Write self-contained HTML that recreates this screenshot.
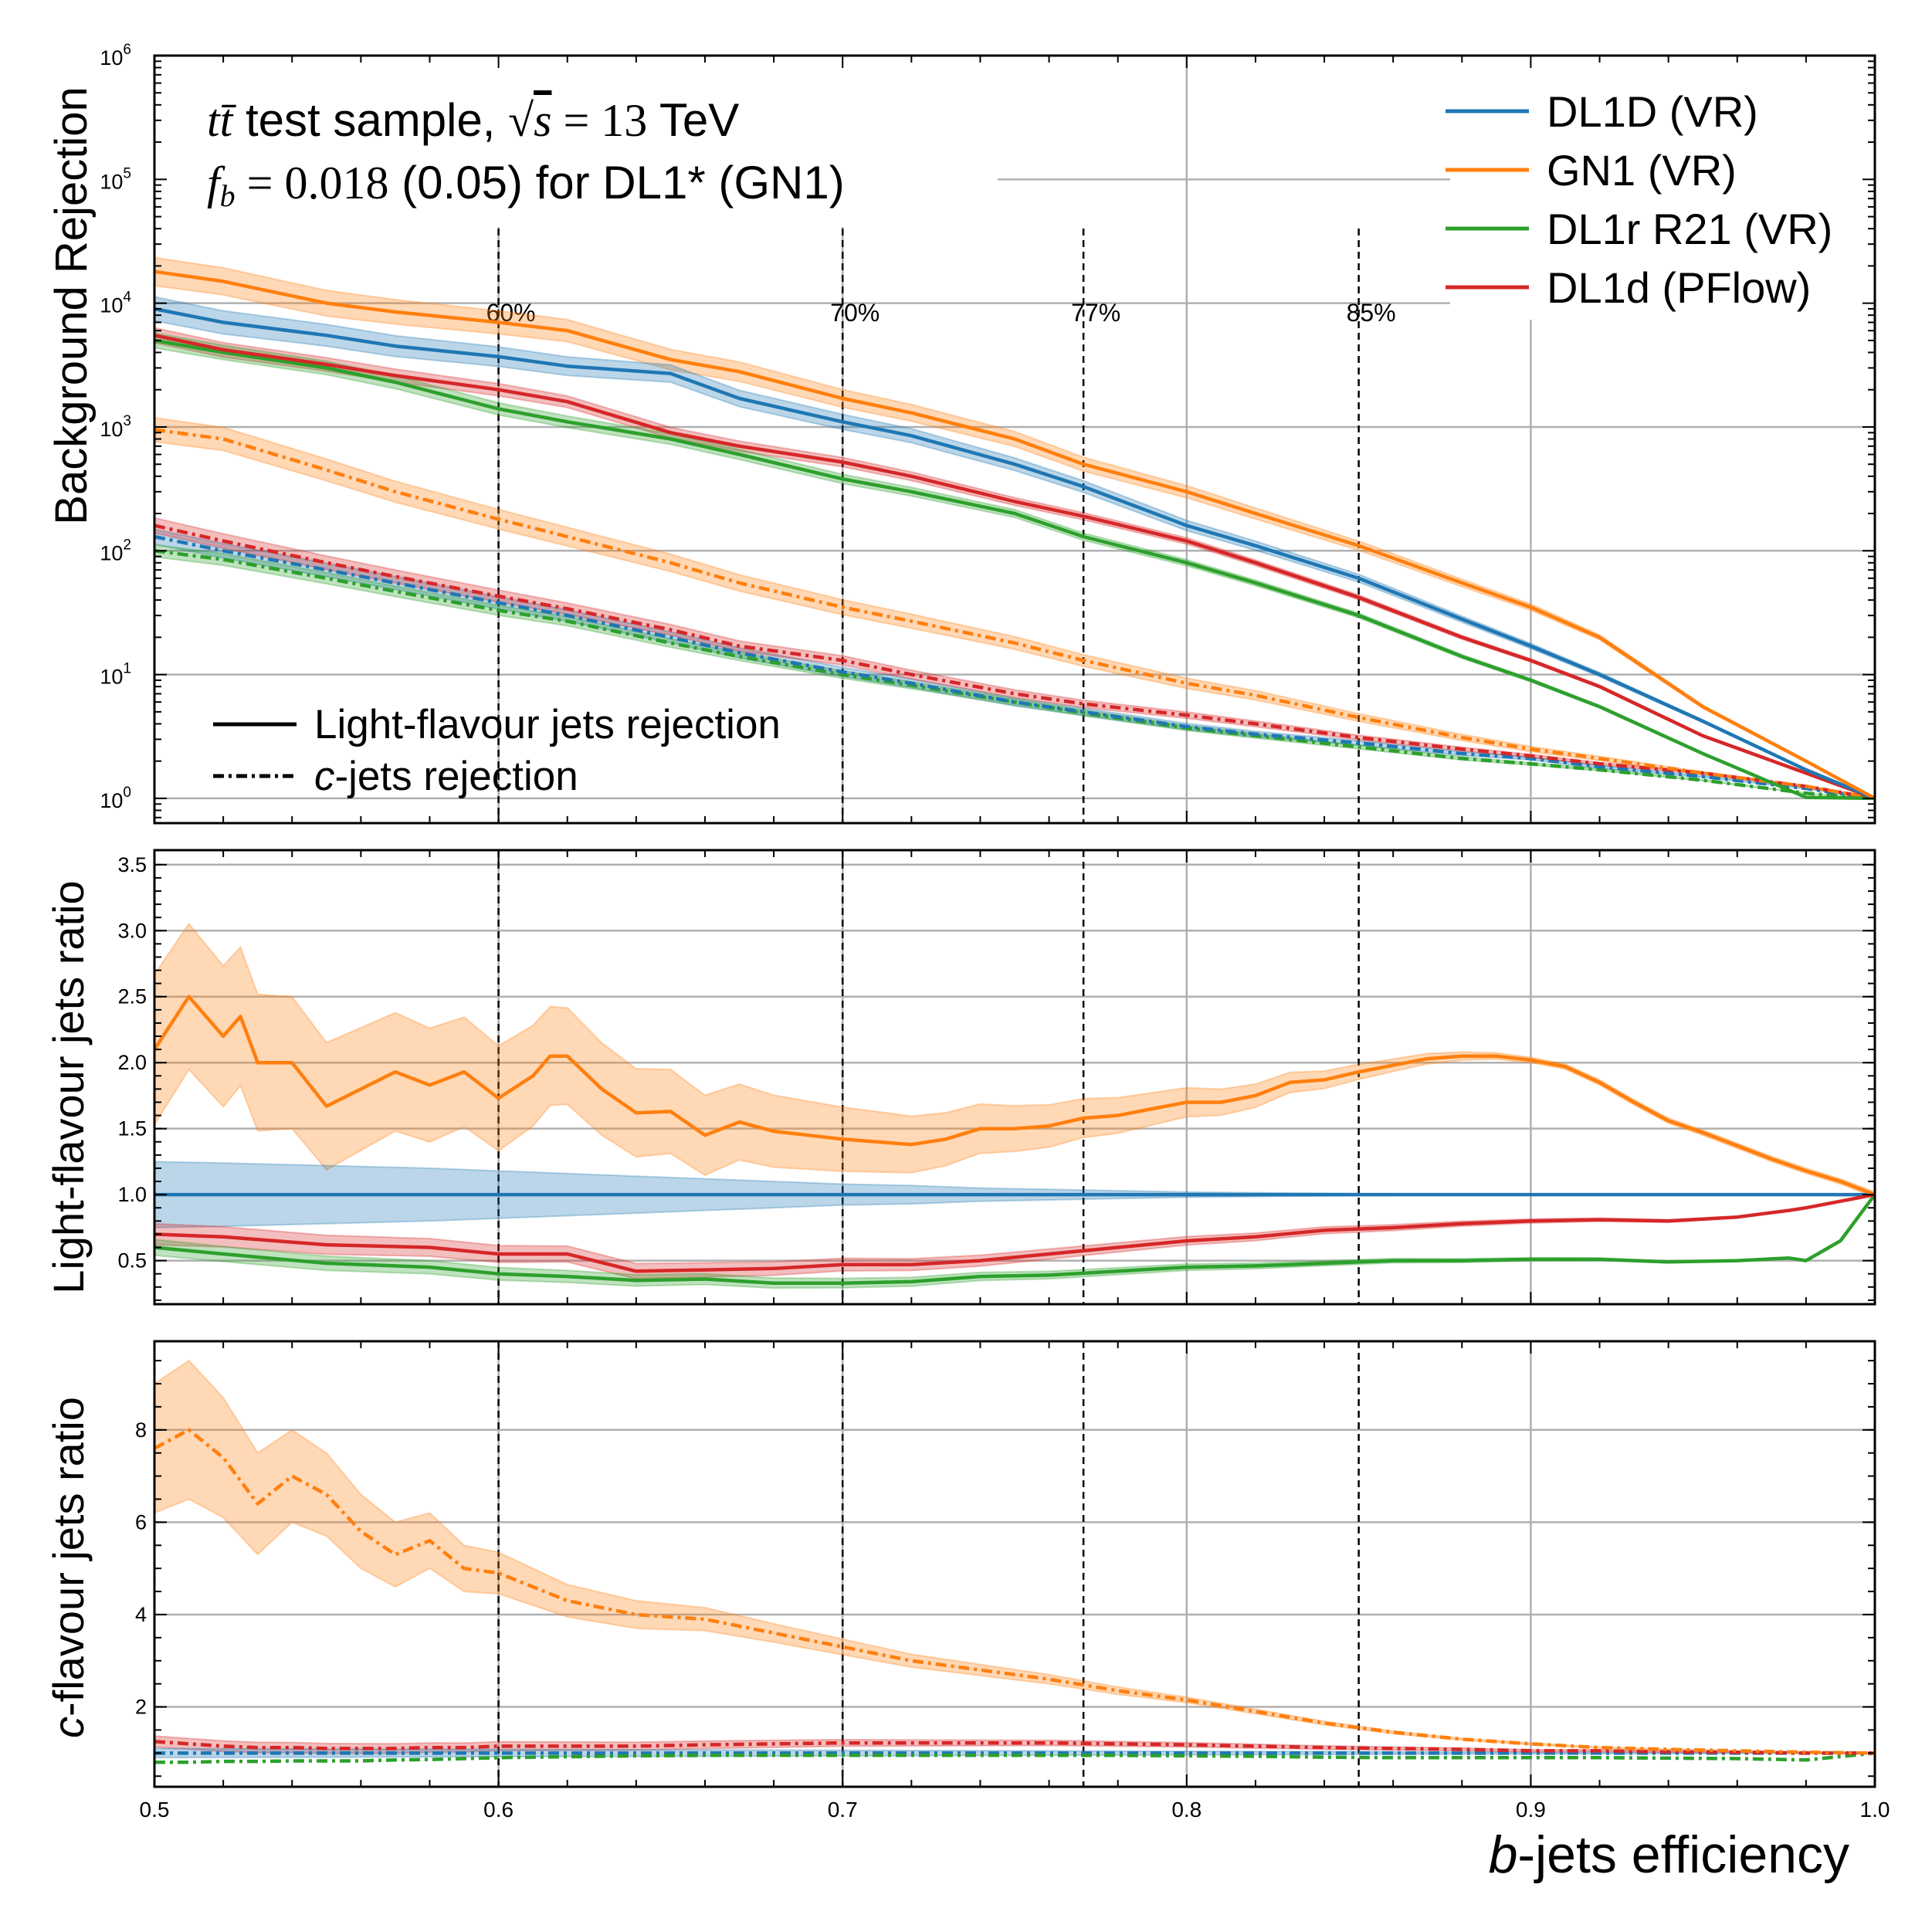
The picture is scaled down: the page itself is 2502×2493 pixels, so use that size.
<!DOCTYPE html>
<html><head><meta charset="utf-8"><style>
body{margin:0;background:#fff}
svg{display:block;font-family:"Liberation Sans",sans-serif}
</style></head><body>
<svg id="chart" width="2502" height="2493" viewBox="0 0 2502 2493" xmlns="http://www.w3.org/2000/svg"></svg>
<script>
// ---- data ----
const effTop = [0.5,0.52,0.55,0.57,0.6,0.62,0.65,0.67,0.7,0.72,0.75,0.77,0.8,0.82,0.85,0.88,0.9,0.92,0.95,0.98,1.0];
const gn1Light  = [18000,15000,10000,8500,7000,6000,3500,2800,1700,1300,800,500,300,200,110,55,35,20,5.5,2.0,1];
const dl1DLight = [9000,7000,5500,4500,3700,3100,2700,1700,1100,850,500,330,160,110,60,28,17,10,4.2,1.7,1];
const dl1rLight = [5000,4000,3000,2300,1400,1100,800,600,380,300,200,130,80,55,30,14,9,5.5,2.3,1.02,1];
const dl1dLight = [5500,4200,3200,2600,2000,1600,900,700,520,400,250,190,120,80,42,20,13,8,3.2,1.6,1];
const gn1C  = [950,800,450,300,180,130,80,55,35,27,18,13,8.5,6.8,4.5,3.1,2.5,2.1,1.6,1.25,1];
const dl1DC = [130,100,70,55,38,30,20,15,10.5,8.5,6,5,3.8,3.3,2.8,2.3,2.1,1.8,1.5,1.2,1];
const dl1dC = [160,120,80,62,43,34,23,17,13,10,7,5.8,4.7,4,3.1,2.5,2.2,1.9,1.6,1.25,1];
const dl1rC = [100,85,60,47,33,27,18,14,10,8.2,6,4.9,3.7,3.2,2.6,2.1,1.9,1.7,1.4,1.1,1];

const effGN1r = [0.5,0.51,0.52,0.525,0.53,0.54,0.55,0.56,0.57,0.58,0.59,0.6,0.61,0.615,0.62,0.63,0.64,0.65,0.66,0.67,0.68,0.69,0.7,0.71,0.72,0.73,0.74,0.75,0.76,0.77,0.78,0.79,0.8,0.81,0.82,0.83,0.84,0.85,0.86,0.87,0.88,0.89,0.9,0.91,0.92,0.93,0.94,0.95,0.96,0.97,0.98,0.99,1.0];
const gn1LightRatio = [2.1,2.5,2.2,2.35,2.0,2.0,1.67,1.8,1.93,1.83,1.93,1.73,1.9,2.05,2.05,1.8,1.62,1.63,1.45,1.55,1.48,1.45,1.42,1.4,1.38,1.42,1.5,1.5,1.52,1.58,1.6,1.65,1.7,1.7,1.75,1.85,1.87,1.93,1.98,2.03,2.05,2.05,2.02,1.97,1.85,1.7,1.56,1.47,1.37,1.27,1.18,1.1,1.0];
const effR = [0.5,0.52,0.55,0.58,0.6,0.62,0.64,0.66,0.68,0.7,0.72,0.74,0.76,0.78,0.8,0.82,0.84,0.86,0.88,0.9,0.92,0.94,0.96,0.975,0.98,0.99,1.0];
const dl1dLightRatio = [0.7,0.68,0.62,0.6,0.55,0.55,0.42,0.43,0.44,0.47,0.47,0.5,0.55,0.6,0.65,0.68,0.73,0.75,0.78,0.8,0.81,0.8,0.83,0.88,0.9,0.95,1.0];
const dl1rLightRatio = [0.6,0.55,0.48,0.45,0.4,0.38,0.35,0.36,0.33,0.33,0.34,0.38,0.39,0.42,0.45,0.46,0.48,0.5,0.5,0.51,0.51,0.49,0.5,0.52,0.5,0.65,1.0];
const dl1DBand = [0.25,0.24,0.22,0.2,0.18,0.16,0.14,0.12,0.1,0.08,0.07,0.05,0.04,0.03,0.02,0.015,0.01,0.005,0,0,0,0,0,0,0,0,0];

const effC = [0.5,0.51,0.52,0.53,0.54,0.55,0.56,0.57,0.58,0.59,0.6,0.62,0.64,0.66,0.68,0.7,0.72,0.74,0.76,0.78,0.8,0.82,0.84,0.86,0.88,0.9,0.92,0.94,0.96,0.98,1.0];
const gn1CRatio = [7.6,8.0,7.4,6.4,7.0,6.6,5.8,5.3,5.6,5.0,4.9,4.3,4.0,3.9,3.6,3.3,3.0,2.8,2.6,2.35,2.15,1.9,1.65,1.45,1.3,1.2,1.12,1.08,1.05,1.02,1.0];
const gn1CBand  = [1.4,1.5,1.3,1.1,1.0,0.9,0.8,0.7,0.6,0.5,0.45,0.35,0.3,0.25,0.2,0.17,0.14,0.12,0.1,0.08,0.06,0.05,0.04,0.03,0.02,0.02,0.01,0.01,0,0,0];
const dl1dCRatio = [1.25,1.2,1.15,1.12,1.12,1.1,1.1,1.1,1.12,1.12,1.15,1.15,1.15,1.18,1.2,1.22,1.22,1.22,1.22,1.2,1.18,1.15,1.12,1.1,1.08,1.05,1.05,1.03,1.02,1.0,1.0];
const dl1rCRatio = [0.8,0.8,0.82,0.82,0.83,0.83,0.83,0.85,0.86,0.88,0.9,0.92,0.94,0.95,0.95,0.95,0.95,0.95,0.95,0.95,0.94,0.93,0.91,0.9,0.9,0.9,0.9,0.89,0.88,0.85,1.0];

const C = {blue:"#1f77b4",orange:"#ff7f0e",green:"#2ca02c",red:"#d62728"};
const NS="http://www.w3.org/2000/svg";
const svg=document.getElementById('chart');
function el(tag,attrs,parent){const e=document.createElementNS(NS,tag);for(const k in attrs)e.setAttribute(k,attrs[k]);(parent||svg).appendChild(e);return e;}
function txt(s,attrs,parent){const t=el('text',attrs,parent);t.textContent=s;return t;}

const X0=200,X1=2428;
const xs=v=>X0+(v-0.5)/0.5*(X1-X0);
const P={
 top:{y0:72,y1:1066,min:-0.2,max:6,log:true},
 mid:{y0:1101,y1:1689,min:0.17,max:3.61},
 bot:{y0:1737,y1:2314,min:0.27,max:9.92}
};
function ys(p,v){const val=p.log?Math.log10(v):v;return p.y1-(val-p.min)/(p.max-p.min)*(p.y1-p.y0);}
function path(p,xArr,yArr){return xArr.map((x,i)=>(i?'L':'M')+xs(x).toFixed(1)+','+ys(p,yArr[i]).toFixed(1)).join('');}
function band(p,xArr,lo,hi){let d=xArr.map((x,i)=>(i?'L':'M')+xs(x).toFixed(1)+','+ys(p,hi[i]).toFixed(1)).join('');
 for(let i=xArr.length-1;i>=0;i--)d+='L'+xs(xArr[i]).toFixed(1)+','+ys(p,lo[i]).toFixed(1);return d+'Z';}
const dashC="14,6,4,6";

function frame(p,name){
 [0.6,0.7,0.8,0.9].forEach(v=>{const g=el('line',{x1:xs(v),x2:xs(v),y1:p.y0,y2:p.y1,stroke:'#b0b0b0','stroke-width':2.5});
  });
}
function yGrid(p,vals,name){vals.forEach(v=>{const g=el('line',{x1:X0,x2:X1,y1:ys(p,v),y2:ys(p,v),stroke:'#b0b0b0','stroke-width':2.5});
 });}
function border(p,name){
 const r=el('rect',{x:X0,y:p.y0,width:X1-X0,height:p.y1-p.y0,fill:'none',stroke:'#000','stroke-width':3});
 
 for(let v=0.5;v<=1.0001;v+=0.02){const maj=Math.abs(v*10-Math.round(v*10))<1e-6;const L=maj?16:9;
  el('line',{x1:xs(v),x2:xs(v),y1:p.y1,y2:p.y1-L,stroke:'#000','stroke-width':2});
  el('line',{x1:xs(v),x2:xs(v),y1:p.y0,y2:p.y0+L,stroke:'#000','stroke-width':2});}
}
function yTicks(p,vals,labels,minors){
 vals.forEach((v,i)=>{const y=ys(p,v);
  el('line',{x1:X0,x2:X0+16,y1:y,y2:y,stroke:'#000','stroke-width':2});
  el('line',{x1:X1,x2:X1-16,y1:y,y2:y,stroke:'#000','stroke-width':2});
  const t=txt(labels[i],{x:X0-10,y:y+9,'text-anchor':'end','font-size':27});
  });
 minors.forEach(v=>{const y=ys(p,v);if(y<p.y0||y>p.y1)return;
  el('line',{x1:X0,x2:X0+9,y1:y,y2:y,stroke:'#000','stroke-width':2});
  el('line',{x1:X1,x2:X1-9,y1:y,y2:y,stroke:'#000','stroke-width':2});});
}
function wpLines(p,top){[0.6,0.7,0.77,0.85].forEach(v=>{const l=el('line',{x1:xs(v),x2:xs(v),y1:top||p.y0,y2:p.y1,stroke:'#000','stroke-width':2.5,'stroke-dasharray':'9,6'});
 });}
function curve(p,xA,yA,color,dash,name){const l=el('path',{d:path(p,xA,yA),fill:'none',stroke:color,'stroke-width':4.5,'stroke-dasharray':dash||'none','stroke-linejoin':'round'});
 return l;}
function shade(p,xA,lo,hi,color,name){const b=el('path',{d:band(p,xA,lo,hi),fill:color,'fill-opacity':0.3,stroke:color,'stroke-opacity':0.3,'stroke-width':2});
 }

// ---- top panel ----
const T=P.top;
frame(T,'top');
yGrid(T,[1,10,100,1000,1e4,1e5],'top');
el('rect',{x:X0+2,y:T.y0+2,width:1090,height:220,fill:'#fff'});
el('rect',{x:1878,y:T.y0+2,width:548,height:340,fill:'#fff'});
wpLines(T,296);
[[0.6,'60%'],[0.7,'70%'],[0.77,'77%'],[0.85,'85%']].forEach(([v,s])=>{const t=txt(s,{x:xs(v)+16,y:416,'text-anchor':'middle','font-size':32});
 });
const fw=x=>Math.max(0,(1-x)*2);
[[gn1Light,C.orange,0.3],[dl1DLight,C.blue,0.25],[dl1dLight,C.red,0.15],[dl1rLight,C.green,0.15]].forEach(([a,c,f])=>shade(T,effTop,a.map((v,i)=>v/(1+f*fw(effTop[i]))),a.map((v,i)=>v*(1+f*fw(effTop[i]))),c,'top-band'));
[[gn1C,C.orange,0.25],[dl1DC,C.blue,0.15],[dl1dC,C.red,0.15],[dl1rC,C.green,0.12]].forEach(([a,c,f])=>shade(T,effTop,a.map((v,i)=>v/(1+f*fw(effTop[i]))),a.map((v,i)=>v*(1+f*fw(effTop[i]))),c,'top-c-band'));
curve(T,effTop,dl1rC,C.green,dashC,'dl1r-c-rejection');
curve(T,effTop,dl1DC,C.blue,dashC,'dl1D-c-rejection');
curve(T,effTop,dl1dC,C.red,dashC,'dl1d-c-rejection');
curve(T,effTop,gn1C,C.orange,dashC,'gn1-c-rejection');
curve(T,effTop,dl1rLight,C.green,null,'dl1r-light-rejection');
curve(T,effTop,dl1dLight,C.red,null,'dl1d-light-rejection');
curve(T,effTop,dl1DLight,C.blue,null,'dl1D-light-rejection');
curve(T,effTop,gn1Light,C.orange,null,'gn1-light-rejection');
border(T,'top');
const topMin=[];for(let d=0;d<6;d++)for(let k=2;k<10;k++)topMin.push(k*Math.pow(10,d));topMin.push(0.7,0.8,0.9);
yTicks(T,[1,10,100,1000,1e4,1e5,1e6],['','','','','','',''],topMin);
[0,1,2,3,4,5,6].forEach(d=>{const y=ys(T,Math.pow(10,d));const t=el('text',{x:X0-30,y:y+12,'text-anchor':'end','font-size':27});
 
 t.textContent='10';const s=el('tspan',{dy:-14,'font-size':19},t);s.textContent=String(d);});
let a1=txt('',{x:268,y:176,'font-size':60},svg);
a1.innerHTML='<tspan font-family="Liberation Serif" font-style="italic">tt̄</tspan> test sample, <tspan font-family="Liberation Serif">√<tspan text-decoration="overline" font-style="italic">s</tspan> = 13</tspan> TeV';
let a2=txt('',{x:268,y:257,'font-size':60},svg);
a2.innerHTML='<tspan font-family="Liberation Serif" font-style="italic">f</tspan><tspan font-family="Liberation Serif" font-style="italic" font-size="40" dy="10">b</tspan><tspan dy="-10" font-family="Liberation Serif"> = 0.018</tspan> (0.05) for DL1* (GN1)';
[['DL1D (VR)',C.blue],['GN1 (VR)',C.orange],['DL1r R21 (VR)',C.green],['DL1d (PFlow)',C.red]].forEach(([s,c],i)=>{const y=144+i*76;
 const l=el('line',{x1:1872,x2:1980,y1:y,y2:y,stroke:c,'stroke-width':5});
 const t=txt(s,{x:2003,y:y+20,'font-size':56});});
el('line',{x1:276,x2:384,y1:938,y2:938,stroke:'#000','stroke-width':5});
el('line',{x1:276,x2:384,y1:1005,y2:1005,stroke:'#000','stroke-width':5,'stroke-dasharray':dashC});
let l1=txt('Light-flavour jets rejection',{x:407,y:956,'font-size':53});
let l2=txt('',{x:407,y:1023,'font-size':53});
l2.innerHTML='<tspan font-style="italic">c</tspan>-jets rejection';

// ---- middle panel ----
const M=P.mid;
frame(M,'mid');yGrid(M,[0.5,1,1.5,2,2.5,3,3.5],'mid');wpLines(M);
const gBand=effGN1r.map(x=>Math.max(0,0.55*Math.pow(Math.max(0,(0.9-x)/0.4),1.3))+0.02);
shade(M,effGN1r,gn1LightRatio.map((v,i)=>v-gBand[i]),gn1LightRatio.map((v,i)=>v+gBand[i]),C.orange,'gn1-ratio-band');
shade(M,effR,dl1DBand.map(b=>1-b),dl1DBand.map(b=>1+b),C.blue,'dl1D-ratio-band');
shade(M,effR,dl1dLightRatio.map((v,i)=>v-0.08*(1-effR[i])*2),dl1dLightRatio.map((v,i)=>v+0.08*(1-effR[i])*2),C.red,'dl1d-ratio-band');
shade(M,effR,dl1rLightRatio.map((v,i)=>v-0.06*(1-effR[i])*2),dl1rLightRatio.map((v,i)=>v+0.06*(1-effR[i])*2),C.green,'dl1r-ratio-band');
curve(M,effR,effR.map(()=>1),C.blue,null,'dl1D-light-ratio');
curve(M,effR,dl1rLightRatio,C.green,null,'dl1r-light-ratio');
curve(M,effR,dl1dLightRatio,C.red,null,'dl1d-light-ratio');
curve(M,effGN1r,gn1LightRatio,C.orange,null,'gn1-light-ratio');
border(M,'mid');
const midMin=[];for(let v=0.2;v<3.6;v+=0.1)midMin.push(v);
yTicks(M,[0.5,1,1.5,2,2.5,3,3.5],['0.5','1.0','1.5','2.0','2.5','3.0','3.5'],midMin);

// ---- bottom panel ----
const B=P.bot;
frame(B,'bot');yGrid(B,[2,4,6,8],'bot');wpLines(B);
shade(B,effC,gn1CRatio.map((v,i)=>v-gn1CBand[i]),gn1CRatio.map((v,i)=>v+gn1CBand[i]),C.orange,'gn1-c-ratio-band');
shade(B,effC,dl1dCRatio.map((v,i)=>v-0.12*(1-effC[i])*2),dl1dCRatio.map((v,i)=>v+0.12*(1-effC[i])*2),C.red,'dl1d-c-ratio-band');
shade(B,effC,effC.map(x=>1-0.1*(1-x)*2),effC.map(x=>1+0.1*(1-x)*2),C.blue,'dl1D-c-ratio-band');
curve(B,effC,effC.map(()=>1),C.blue,dashC,'dl1D-c-ratio');
curve(B,effC,dl1rCRatio,C.green,dashC,'dl1r-c-ratio');
curve(B,effC,dl1dCRatio,C.red,dashC,'dl1d-c-ratio');
curve(B,effC,gn1CRatio,C.orange,dashC,'gn1-c-ratio');
border(B,'bot');
const botMin=[];for(let v=0.5;v<10;v+=0.5)botMin.push(v);
yTicks(B,[2,4,6,8],['2','4','6','8'],botMin);
[0.5,0.6,0.7,0.8,0.9,1.0].forEach(v=>{const t=txt(v.toFixed(1),{x:xs(v),y:2353,'text-anchor':'middle','font-size':28});
 });

let xt=txt('',{x:2395,y:2425,'text-anchor':'end','font-size':68});
xt.innerHTML='<tspan font-style="italic">b</tspan>-jets efficiency';
let y1=txt('Background Rejection',{transform:'translate(112,396) rotate(-90)','text-anchor':'middle','font-size':58});
let y2=txt('Light-flavour jets ratio',{transform:'translate(108,1408) rotate(-90)','text-anchor':'middle','font-size':56});
let y3=txt('',{transform:'translate(108,2030) rotate(-90)','text-anchor':'middle','font-size':56});
y3.innerHTML='<tspan font-style="italic">c</tspan>-flavour jets ratio';
</script>
</body></html>
